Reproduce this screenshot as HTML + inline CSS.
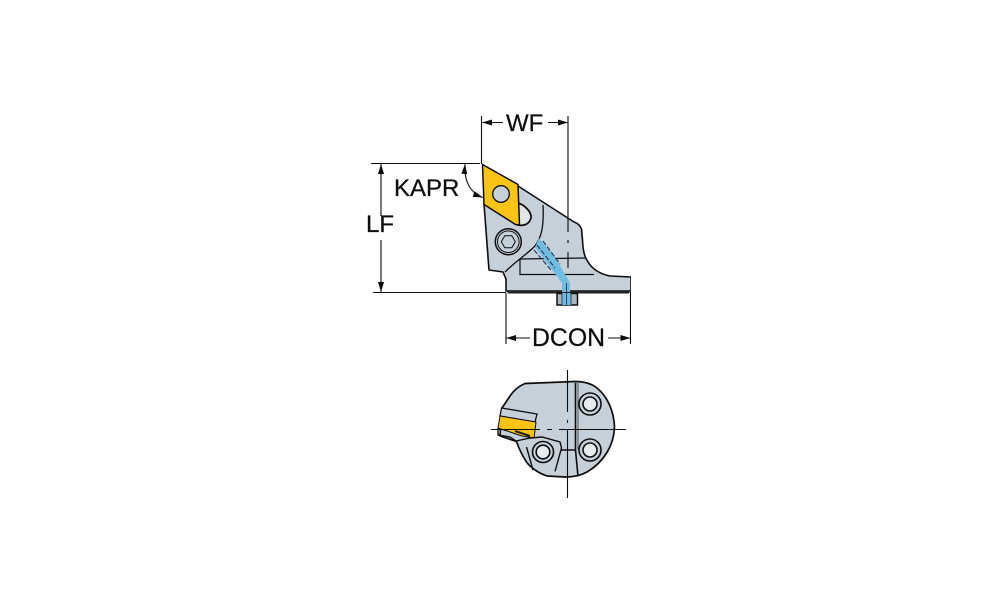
<!DOCTYPE html>
<html>
<head>
<meta charset="utf-8">
<style>
html,body{margin:0;padding:0;background:#fff;width:1000px;height:611px;overflow:hidden}
svg{display:block}
text{font-family:"Liberation Sans",sans-serif;fill:#111;stroke:#111;stroke-width:.25}
</style>
</head>
<body>
<svg width="1000" height="611" viewBox="0 0 1000 611" xmlns="http://www.w3.org/2000/svg">
<defs>
<marker id="a" viewBox="0 0 10 6" refX="10" refY="3" markerWidth="10" markerHeight="6" orient="auto-start-reverse" markerUnits="userSpaceOnUse"><path d="M0 0L10 3L0 6Z" fill="#111"/></marker>
<filter id="b" x="0" y="0" width="100%" height="100%"><feGaussianBlur stdDeviation="0.35"/></filter>
</defs>
<g filter="url(#b)">
<!-- side view body -->
<path d="M484 204L489 270L503 272L506 279L506 291L631 291L631 277L610 276C600 274 593 270 588 262C584 256 583 250 582.500 240L581.500 229C580 225 577 223 574 222L518 186Z" fill="#c5d0d9" stroke="#111" stroke-width="1.600" stroke-linejoin="round"/>
<path d="M507 291L630 291L629 293.500L508 293.500Z" fill="#222"/>
<!-- internal lines -->
<path d="M543 205C544 225 542 238 534 247C527 254 515 262 505 272" fill="none" stroke="#111" stroke-width="1.300"/>
<path d="M520 259L520 274.500L594 274.500M520 259L585 258" fill="none" stroke="#111" stroke-width="1.200"/>
<!-- coolant channel -->
<path d="M539 238L555 257L570 283L570 292L562 292L562 283L550 267L535 247Z" fill="#72bce2"/>
<path d="M537 245L555 268M534 250L551 270M543 241L560 264" fill="none" stroke="#1d3a52" stroke-width="1.100" stroke-dasharray="5 2"/>
<!-- screw -->
<path d="M557 293.500H577.500V305H557Z" fill="#a9b6c0" stroke="#111" stroke-width="1.500"/>
<path d="M562 293H571V305H562Z" fill="#72bce2"/>
<path d="M562 293V305M571 293V305M566.500 283V305" stroke="#1d3a52" stroke-width=".9"/>
<!-- hole behind insert -->
<path d="M517 203C524 204 532 212 531 218C529 225 523 226 518 225Z" fill="#dfe6ea" stroke="#111" stroke-width="1.800"/>
<!-- socket screw -->
<circle cx="508.300" cy="241.700" r="13" fill="#c5d0d9" stroke="#111" stroke-width="1.500"/>
<circle cx="508.300" cy="241.700" r="10.800" fill="none" stroke="#111" stroke-width="1"/>
<path d="M501.300 241.700L504.800 235.700L511.800 235.700L515.300 241.700L511.800 247.700L504.800 247.700Z" fill="#c5d0d9" stroke="#111" stroke-width="1"/>
<!-- insert -->
<path d="M482.500 164.500L518 184.500L519.500 225L515.500 224.500L484 204.500Z" fill="#fac416" stroke="#111" stroke-width="1.500" stroke-linejoin="round"/>
<circle cx="501" cy="194" r="8.300" fill="#c5d0d9" stroke="#111" stroke-width="1.300"/>
<!-- dims -->
<g stroke="#111" stroke-width="1.100" fill="none">
<path d="M371 163.500H480"/>
<path d="M373 292.500H506"/>
<path d="M481.500 116V164"/>
<path d="M568 116V232M568 240V243M568 252V268"/>
<path d="M506 293V344M630.500 292V344"/>
<path d="M381 174V216M381 240V282"/>
<path d="M482 122.500H503" marker-start="url(#a)"/>
<path d="M568 122.500H548" marker-start="url(#a)"/>
<path d="M506 338H530" marker-start="url(#a)"/>
<path d="M630.500 338H608" marker-start="url(#a)"/>
<path d="M465 164C464 178 468 192 483 197.500" marker-start="url(#a)" marker-end="url(#a)"/>
<path d="M381 164V175" marker-start="url(#a)"/>
<path d="M381 292V281" marker-start="url(#a)"/>
</g>
<text x="506" y="131" font-size="24">WF</text>
<text x="394" y="196" font-size="24">KAPR</text>
<text x="366" y="232" font-size="24">LF</text>
<text x="532" y="346" font-size="24.800">DCON</text>
<!-- bottom view -->
<path d="M525 383.500L575 381.500C585 381.500 592 384 597 388C608 397 614 412 614.500 427C614 445 604 462 587 472C580 476 572 477 565 477L547 476C538 473 530 467 526.500 462C522 455 519 449 516.500 441.500L500 436L502 408L510 396C514 390 519 386 525 383.500Z" fill="#c5d0d9" stroke="#111" stroke-width="1.700" stroke-linejoin="round"/>
<path d="M501.500 408L537 414L535 422L500 416Z" fill="#c5d0d9" stroke="#111" stroke-width="1.300"/>
<path d="M500 416L536 422L534 438L522 436L498 428Z" fill="#fac416" stroke="#111" stroke-width="1"/>
<path d="M498 428L498 435L510 437L516 441L530 438L542 437L560 442L561.500 448L555 471.500M526.500 447L533 470" fill="none" stroke="#111" stroke-width="1.400"/>
<path d="M515 431L530 436" stroke="#222" stroke-width="2"/>
<circle cx="543" cy="452" r="10.500" fill="#c5d0d9" stroke="#111" stroke-width="1.600"/>
<circle cx="543" cy="452" r="6.800" fill="#e6ebee" stroke="#111" stroke-width="1.600"/>
<circle cx="590" cy="404" r="11" fill="#c5d0d9" stroke="#111" stroke-width="1.600"/>
<circle cx="590" cy="404" r="7" fill="#e6ebee" stroke="#111" stroke-width="1.600"/>
<circle cx="590" cy="450" r="11" fill="#c5d0d9" stroke="#111" stroke-width="1.600"/>
<circle cx="590" cy="450" r="7" fill="#e6ebee" stroke="#111" stroke-width="1.600"/>
<path d="M575.500 383V450L578 476.500M561.500 450H575" fill="none" stroke="#111" stroke-width="1.600"/>
<path d="M578 383V450" stroke="#444" stroke-width=".9"/>
<g stroke="#111" stroke-width="1.100" fill="none">
<path d="M491 429.500H540M547 429.500H552M559 429.500H626"/>
<path d="M567.500 370V412M567.500 420V423M567.500 430V498"/>
</g>
</g>
</svg>
</body>
</html>
